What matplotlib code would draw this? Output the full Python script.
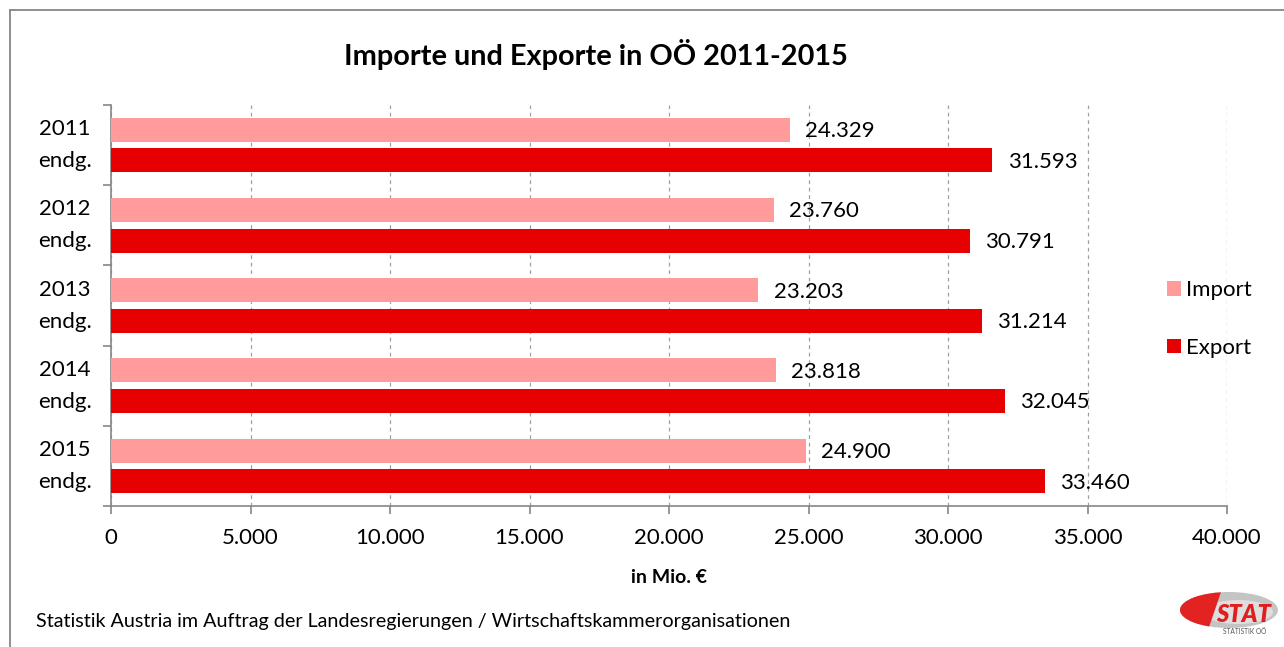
import matplotlib.pyplot as plt
import matplotlib
from matplotlib.lines import Line2D
from matplotlib.patches import Ellipse, Polygon
from matplotlib.ticker import FuncFormatter
import numpy as np

matplotlib.rcParams['font.family'] = ['Lato', 'DejaVu Sans']

# Daten
jahre = ['2011\nendg.', '2012\nendg.', '2013\nendg.', '2014\nendg.', '2015\nendg.']
importe = [24329, 23760, 23203, 23818, 24900]
exporte = [31593, 30791, 31214, 32045, 33460]
x_ticks = [0, 5000, 10000, 15000, 20000, 25000, 30000, 35000, 40000]

col_import = '#FF9B9B'
col_export = '#E60000'
grau = '#868686'


def de_fmt(v, pos=None):
    return f'{int(v):,}'.replace(',', '.')


W, H = 1284, 647
fig = plt.figure(figsize=(W / 100, H / 100), dpi=100)

# Rahmen oben und links
fig.add_artist(Line2D([10 / W, 1.0], [1 - 10 / H, 1 - 10 / H], transform=fig.transFigure,
                      color=grau, lw=1.3))
fig.add_artist(Line2D([10 / W, 10 / W], [0, 1 - 10 / H], transform=fig.transFigure,
                      color=grau, lw=1.3))

ax = fig.add_axes([111 / W, 141 / H, 1116 / W, 401 / H])

y = np.arange(len(jahre))
h = 0.30
off = 0.19
ax.barh(y - off, importe, height=h, color=col_import, label='Import', zorder=3)
ax.barh(y + off, exporte, height=h, color=col_export, label='Export', zorder=3)

for yi, v in zip(y, importe):
    ax.annotate(de_fmt(v), (v, yi - off), xytext=(11, -1), textcoords='offset points',
                va='center', ha='left', fontsize=16, color='black')
for yi, v in zip(y, exporte):
    ax.annotate(de_fmt(v), (v, yi + off), xytext=(11, -1), textcoords='offset points',
                va='center', ha='left', fontsize=16, color='black')

ax.set_xlim(0, 40000)
ax.set_ylim(len(jahre) - 0.5, -0.5)
ax.set_xticks(x_ticks)
ax.xaxis.set_major_formatter(FuncFormatter(de_fmt))
ax.set_yticks(y)
ax.set_yticklabels(jahre, multialignment='center', linespacing=1.75, va='center')
ax.set_yticks(np.arange(-0.5, len(jahre), 1.0), minor=True)
ax.tick_params(axis='y', which='major', length=0, pad=14, labelsize=16)
ax.tick_params(axis='y', which='minor', length=6, color=grau, width=1.2)
ax.tick_params(axis='x', length=6, color=grau, width=1.2, pad=10, labelsize=16)

ax.grid(axis='x', color='#a0a0a0', linestyle=(0, (3, 3)), lw=0.9, zorder=0)
for s in ['top', 'right']:
    ax.spines[s].set_visible(False)
for s in ['left', 'bottom']:
    ax.spines[s].set_color(grau)
    ax.spines[s].set_linewidth(1.2)

ax.set_xlabel('in Mio. €', fontsize=14, fontweight='bold', labelpad=15)

fig.text(596 / W, 1 - 55 / H, 'Importe und Exporte in OÖ 2011-2015', ha='center', va='center',
         fontsize=20.8, fontweight='bold')

fig.legend(loc='center left', bbox_to_anchor=(1147 / W, 1 - 319 / H), frameon=False,
           fontsize=16, handlelength=0.65, handleheight=0.65, handletextpad=0.2,
           labelspacing=1.7)

fig.text(36 / W, 1 - 621 / H,
         'Statistik Austria im Auftrag der Landesregierungen / Wirtschaftskammerorganisationen',
         ha='left', va='center', fontsize=14.2)

# Logo STAT
lax = fig.add_axes([1178 / W, 8 / H, 104 / W, 50 / H])
lax.set_xlim(0, 104)
lax.set_ylim(0, 50)
lax.axis('off')
ell = Ellipse((51, 29), 98, 36, facecolor='#c4c4c4', edgecolor='none')
lax.add_patch(ell)
inner = Ellipse((60, 27), 70, 24, facecolor='#dedede', edgecolor='none')
lax.add_patch(inner)
inner.set_clip_path(ell)
rot = Polygon([(0, 50), (44, 50), (27, 0), (0, 0)], closed=True, facecolor='#e32222',
              edgecolor='none')
lax.add_patch(rot)
rot.set_clip_path(ell)
lax.text(66, 25, 'STAT', ha='center', va='center', fontsize=17, fontweight='heavy',
         fontstyle='italic', color='#e01e1e')
lax.text(67, 8, 'STATISTIK OÖ', ha='center', va='center', fontsize=4.8, color='#555555')

plt.savefig('out.png', dpi=100)
plt.close()
